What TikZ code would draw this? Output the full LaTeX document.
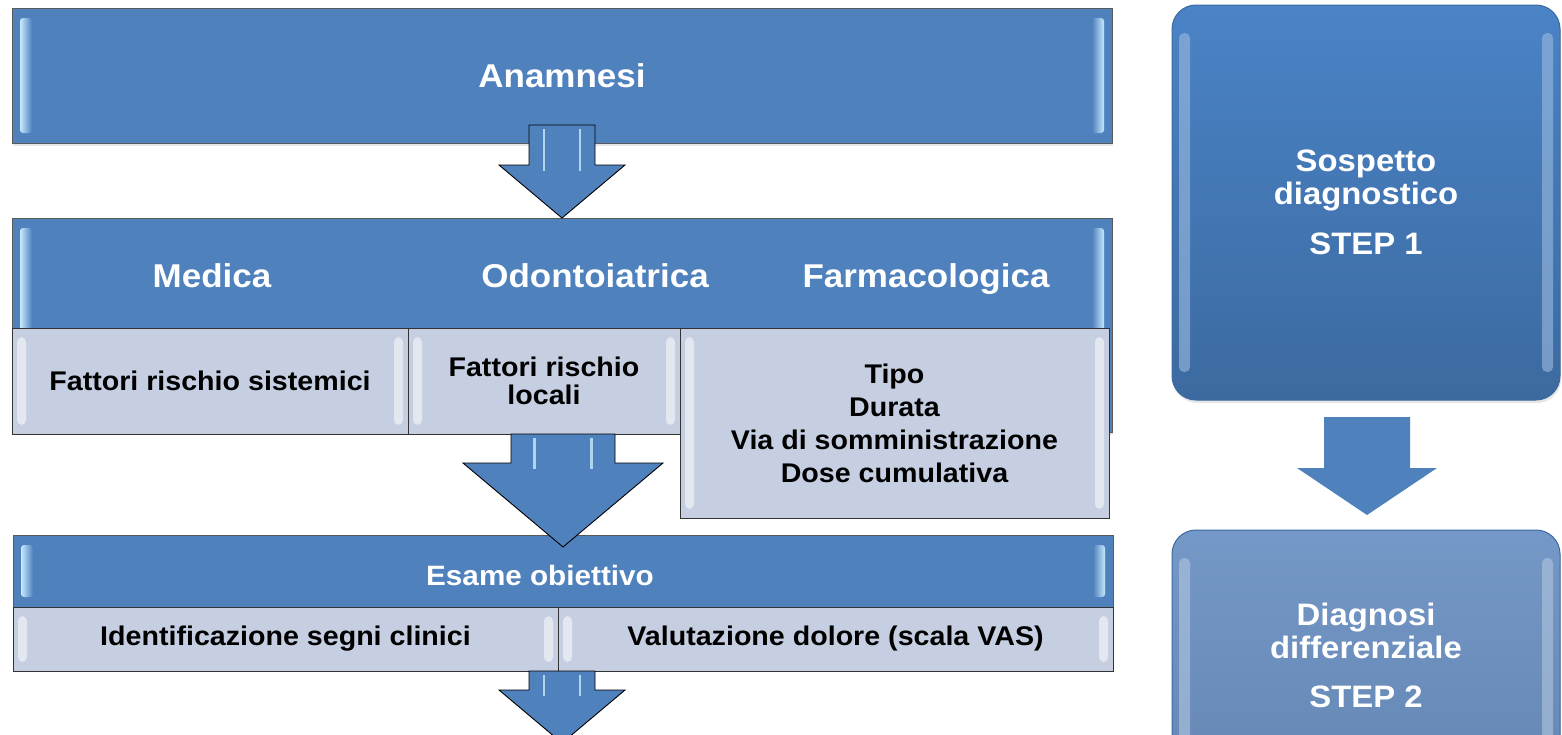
\documentclass[tikz,border=0pt]{standalone}
\usepackage{fontspec}
\setmainfont{Liberation Sans}[FakeStretch=1.06]
\usetikzlibrary{calc}
\usetikzlibrary{positioning}
\usetikzlibrary{shadows}

\definecolor{hblue}{RGB}{79,129,189}
\definecolor{cellgray}{RGB}{198,207,225}
\definecolor{edge}{RGB}{90,90,90}
\definecolor{glint}{RGB}{198,233,252}
\definecolor{stepA}{RGB}{74,131,198}
\definecolor{stepAdark}{RGB}{60,106,160}
\definecolor{stepB}{RGB}{116,152,199}
\definecolor{stepBdark}{RGB}{102,135,180}

\tikzset{
	box/.style={rectangle, inner sep=0pt, outer sep=0pt, line width=1pt},
	bar/.style={box, draw=edge, fill=hblue, drop shadow={shadow xshift=1pt, shadow yshift=-3pt, opacity=0.2}},
	cell/.style={box, draw=black!80, fill=cellgray, align=center, font=\bfseries\fontsize{27}{28}\selectfont},
	stepbox/.style={box, rounded corners=24pt, draw=stepAdark, align=center, text=white,
		font=\bfseries\fontsize{31}{33}\selectfont, drop shadow={shadow xshift=1pt, shadow yshift=-3pt, opacity=0.2}},
	bartext/.style={anchor=base, text=white, font=\bfseries\fontsize{33}{36}\selectfont},
	fat/.style={draw=black, line width=0.9pt, fill=hblue},
	fat streak/.style={draw=glint, line width=2.5pt, opacity=0.8},
	flat/.style={fill=hblue, draw=none},
	flat streak/.style={draw=none},
}

% block arrow: [style]{from}{tip}{shaft half}{head half}{head length}
\newcommand{\fatarrow}[6][fat]{%
	\draw[#1] let \p1=(#2), \p2=(#3) in
		(\x2-#4pt,\y1) -- (\x2+#4pt,\y1) -- (\x2+#4pt,\y2+#6pt) -- (\x2+#5pt,\y2+#6pt)
		-- (\x2,\y2) -- (\x2-#5pt,\y2+#6pt) -- (\x2-#4pt,\y2+#6pt) -- cycle;
	\draw[#1 streak] let \p1=(#2), \p2=(#3) in
		(\x2-0.55*#4pt,\y1-4pt) -- (\x2-0.55*#4pt,\y2+#6pt-6pt)
		(\x2+0.55*#4pt,\y1-4pt) -- (\x2+0.55*#4pt,\y2+#6pt-6pt);
}

\begin{document}
\begin{tikzpicture}[x=1pt, y=-1pt]
	\clip[use as bounding box] (0,0) rectangle (1562,734);
	
	% blue bars
	\node[bar, minimum width=1100pt, minimum height=135pt, text=white,
		font=\bfseries\fontsize{33}{36}\selectfont] (anam) at (562,75.5) {Anamnesi};
	\node[bar, minimum width=1100pt, minimum height=214pt] (hist) at (562,325) {};
	\node[bar, minimum width=1100pt, minimum height=72pt] (esame) at (563,571) {};
	
	\foreach \n in {anam,hist,esame}{
		\shade[left color=glint, right color=hblue, rounded corners=3pt]
			($(\n.north west)+(8,10)$) rectangle ($(\n.south west)+(20,-10)$);
		\shade[left color=hblue, right color=glint, rounded corners=3pt]
			($(\n.north east)+(-20,10)$) rectangle ($(\n.south east)+(-8,-10)$);
	}
	
	\node[bartext] (tmed) at (212,287) {Medica};
	\node[bartext] (todo) at (595,287) {Odontoiatrica};
	\node[bartext] (tfar) at (926,287) {Farmacologica};
	\node[bartext, font=\bfseries\fontsize{28}{30}\selectfont] (tesa) at (540,585) {Esame obiettivo};
	
	% grey cells
	\node[cell, anchor=north west, minimum width=396pt, minimum height=106pt] (sis) at (12,328)
		{Fattori rischio sistemici};
	\node[cell, anchor=north west, minimum width=272pt, minimum height=106pt] (loc) at (sis.north east)
		{Fattori rischio\\locali};
	\node[cell, anchor=north west, minimum width=429pt, minimum height=190pt,
		font=\bfseries\fontsize{27}{33}\selectfont] (farm) at (loc.north east)
		{Tipo\\Durata\\Via di somministrazione\\Dose cumulativa};
	\node[cell, anchor=north west, minimum width=545pt, minimum height=64pt] (ident) at (esame.south west)
		{Identificazione segni clinici};
	\node[cell, anchor=north west, minimum width=555pt, minimum height=64pt] (valut) at (ident.north east)
		{Valutazione dolore (scala VAS)};
	
	\foreach \n in {sis,loc,farm,ident,valut}{
		\fill[white, opacity=0.5, rounded corners=5pt]
			($(\n.north west)+(5,9)$) rectangle ($(\n.south west)+(14,-9)$);
		\fill[white, opacity=0.5, rounded corners=5pt]
			($(\n.north east)+(-14,9)$) rectangle ($(\n.south east)+(-5,-9)$);
	}
	
	% steps
	\node[stepbox, top color=stepA, bottom color=stepAdark, minimum width=388pt, minimum height=395pt]
		(sosp) at (1366,202.5) {Sospetto\\diagnostico\\[17pt]STEP 1};
	\node[stepbox, top color=stepB, bottom color=stepBdark, minimum width=388pt, minimum height=250pt]
		(diff) at (1366,655) {Diagnosi\\differenziale\\[16pt]STEP 2};
	
	\foreach \n/\c in {sosp/stepA,diff/stepB}{
		\fill[\c!55!white, opacity=0.6, rounded corners=5pt]
			($(\n.north west)+(7,28)$) rectangle ($(\n.south west)+(18,-28)$);
		\fill[\c!55!white, opacity=0.6, rounded corners=5pt]
			($(\n.north east)+(-18,28)$) rectangle ($(\n.south east)+(-7,-28)$);
	}
	
	% arrows
	\coordinate (a1s) at (562,125);
	\coordinate (a2s) at (563,434);
	\coordinate (a2e) at (563,547);
	\coordinate (a3s) at (562,671);
	\coordinate (a3e) at (562,743);
	\coordinate (a4s) at (1367,417);
	\coordinate (a4e) at (1367,515);
	
	\fatarrow{a1s}{hist.north}{33}{63}{53}
	\fatarrow{a2s}{a2e}{52}{100}{84}
	\fatarrow{a3s}{a3e}{33}{63}{53}
	\fatarrow[flat]{a4s}{a4e}{43}{70}{47}
\end{tikzpicture}
\end{document}
